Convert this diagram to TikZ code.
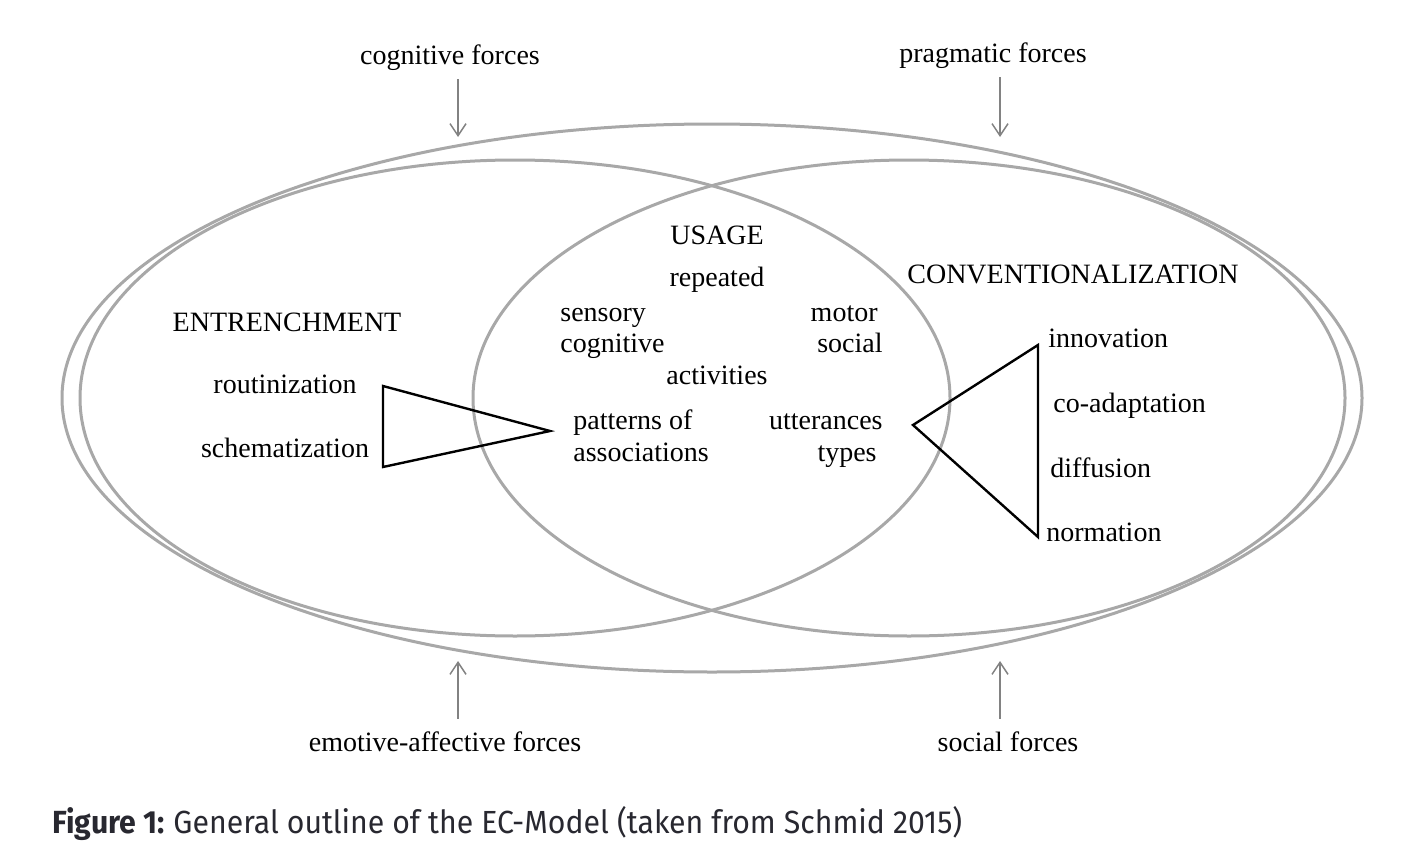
\documentclass[tikz,border=0pt]{standalone}
\usepackage{fontspec}
\setmainfont{Liberation Serif}
\newfontfamily\capfont[FakeStretch=0.945]{Fira Sans}
\usetikzlibrary{arrows.meta, positioning}
\definecolor{ringgray}{RGB}{168,168,168}
\definecolor{arrowgray}{RGB}{130,130,130}
\definecolor{capink}{RGB}{40,40,48}

\begin{document}
\begin{tikzpicture}[x=0.5pt, y=-0.5pt, font=\fontsize{14}{16}\selectfont,
  ring/.style={draw=ringgray, line width=1.5pt},
  force/.style={draw=arrowgray, line width=0.75pt, -{Straight Barb[length=6pt, width=8pt]}},
  wedge/.style={draw=black, line width=1.2pt, line join=miter},
  lbl/.style={inner sep=0pt, text height=0.7em, text depth=0.2em, yshift=-2pt}]
\useasboundingbox (0,0) rectangle (1403,867);
% outer ellipse and the two overlapping fields
\draw[ring] (712,398) ellipse [x radius=650, y radius=274];
\draw[ring] (515,398) ellipse [x radius=435, y radius=238];
\draw[ring] (909,398) ellipse [x radius=436, y radius=238];
% forces
\node[lbl] (cogf) at (450,55) {cognitive forces};
\node[lbl] (pragf) at (993,53) {pragmatic forces};
\node[lbl] (emof) at (445,742) {emotive-affective forces};
\node[lbl] (socf) at (1008,742) {social forces};
\coordinate (cogtip) at (458,137);
\coordinate (pragtip) at (1000,137);
\coordinate (emotip) at (458,661);
\coordinate (soctip) at (1000,661);
\draw[force, shorten <=5.5pt] (cogf.south -| cogtip) -- (cogtip);
\draw[force, shorten <=5.5pt] (pragf.south -| pragtip) -- (pragtip);
\draw[force, shorten <=9pt] (emof.north -| emotip) -- (emotip);
\draw[force, shorten <=9pt] (socf.north -| soctip) -- (soctip);
% entrenchment
\node[lbl] (entr) at (287,322) {ENTRENCHMENT};
\node[lbl] (rout) at (285,384) {routinization};
\node[lbl] (schem) at (285,448) {schematization};
\draw[wedge] (383,386) -- (383,467) -- (550,431) -- cycle;
% usage
\node[lbl] (usage) at (717,235) {USAGE};
\node[lbl] (rep) at (717,277) {repeated};
\node[lbl, anchor=west] (sens) at (560,312) {sensory};
\node[lbl, anchor=west] (cogn) at (560,343) {cognitive};
\node[lbl, anchor=east] (motor) at (878,312) {motor};
\node[lbl, anchor=east] (soc) at (883,343) {social};
\node[lbl] (act) at (717,375) {activities};
\node[lbl, anchor=west] (patt) at (573,420) {patterns of};
\node[lbl, anchor=west] (assoc) at (573,452) {associations};
\node[lbl, anchor=east] (utt) at (883,420) {utterances};
\node[lbl, anchor=east] (types) at (877,452) {types};
% conventionalization
\node[lbl] (conv) at (1073,274) {CONVENTIONALIZATION};
\draw[wedge] (913,425) -- (1038,345) -- (1038,537) -- cycle;
\node[lbl, anchor=west] (innov) at (1048,338) {innovation};
\node[lbl, anchor=west] (coad) at (1053,403) {co-adaptation};
\node[lbl, anchor=west] (diff) at (1050,468) {diffusion};
\node[lbl, anchor=west] (norm) at (1046,532) {normation};
% caption
\node[anchor=base west, inner sep=0pt, text=capink, font=\capfont\fontsize{16}{18}\selectfont] (cap) at (52,833)
  {\textbf{Figure 1:}\hspace{-1pt} General outline of the EC-Model (taken from Schmid 2015)};
\end{tikzpicture}
\end{document}
